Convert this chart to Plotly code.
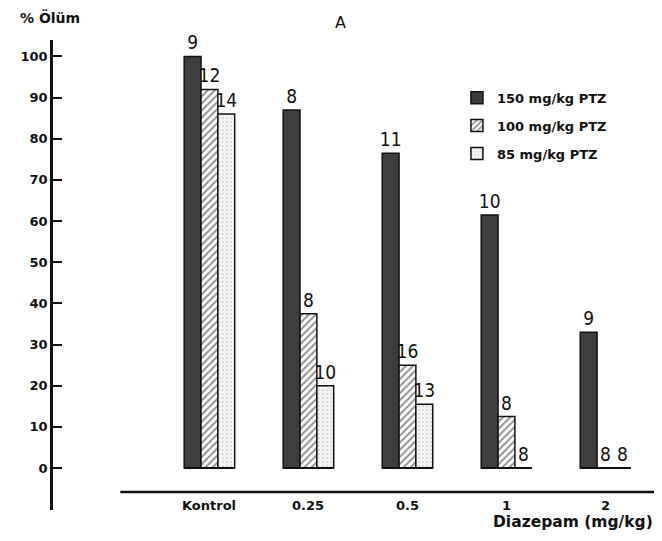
import plotly.graph_objects as go

categories = ["Kontrol", "0.25", "0.5", "1", "2"]
series_names = ["150 mg/kg PTZ", "100 mg/kg PTZ", "85 mg/kg PTZ"]
death_150 = [100, 87, 76.5, 61.5, 33]
death_100 = [92, 37.5, 25, 12.5, 0]
death_85 = [86, 20, 15.5, 0, 0]
n_150 = ["9", "8", "11", "10", "9"]
n_100 = ["12", "8", "16", "8", "8"]
n_85 = ["14", "10", "13", "8", "8"]
y_ticks = list(range(0, 101, 10))

label_font = dict(family="Liberation Sans Narrow, DejaVu Sans Condensed, sans-serif", size=19, color="#111")
axis_font = dict(family="DejaVu Sans, sans-serif", size=13, color="#111", weight="bold")

fig = go.Figure()
fig.add_trace(go.Bar(
    x=categories, y=death_150, name=series_names[0], text=n_150,
    textposition="outside", textfont=label_font, cliponaxis=False,
    marker=dict(color="#3e3e3e", line=dict(color="#111", width=1.5)),
    legendgroup="a",
))
fig.add_trace(go.Bar(
    x=categories, y=death_100, name=series_names[1], text=n_100,
    textposition="outside", textfont=label_font, cliponaxis=False,
    marker=dict(color="white", line=dict(color="#111", width=1.5),
                pattern=dict(shape="/", fgcolor="#222", bgcolor="white", size=5, solidity=0.4)),
    legendgroup="b",
))
fig.add_trace(go.Bar(
    x=categories, y=death_85, name=series_names[2], text=n_85,
    textposition="outside", textfont=label_font, cliponaxis=False,
    marker=dict(color="white", line=dict(color="#111", width=1.5),
                pattern=dict(shape=".", fgcolor="#999", bgcolor="#f4f4f4", size=4, solidity=0.15)),
    legendgroup="c",
))

shapes = []
# baseline under each group (bottom outline of the bars)
for i, _ in enumerate(categories):
    shapes.append(dict(type="line", xref="x", yref="y", x0=i - 0.255, x1=i + 0.255,
                       y0=0, y1=0, line=dict(color="#111", width=1.8)))
# long horizontal rule below the bars
shapes.append(dict(type="line", xref="x", yref="y", x0=-0.9, x1=4.5, y0=-5.8, y1=-5.8,
                   line=dict(color="#111", width=2.5)))

annotations = []
for i, c in enumerate(categories):
    annotations.append(dict(x=i, y=-9.2, xref="x", yref="y", text=c, showarrow=False,
                            font=dict(family="DejaVu Sans, sans-serif", size=13, color="#111",
                                      weight="bold"),
                            yanchor="middle"))
annotations.append(dict(x=1.0, y=-0.0255, xref="paper", yref="paper", text="Diazepam (mg/kg)",
                        showarrow=False, xanchor="right", yanchor="middle",
                        font=dict(family="DejaVu Sans, sans-serif", size=15.5, color="#111",
                                  weight="bold")))
annotations.append(dict(x=-0.058, y=1.048, xref="paper", yref="paper", text="% Ölüm",
                        showarrow=False, xanchor="left", yanchor="middle",
                        font=dict(family="DejaVu Sans, sans-serif", size=14, color="#111",
                                  weight="bold")))
annotations.append(dict(x=0.477, y=1.037, xref="paper", yref="paper", text="A",
                        showarrow=False, xanchor="center", yanchor="middle",
                        font=dict(family="DejaVu Sans, sans-serif", size=16, color="#111")))

fig.update_layout(
    width=650, height=530,
    margin=dict(l=45, r=3, t=31.5, b=28),
    paper_bgcolor="white", plot_bgcolor="white",
    barmode="group", bargap=0.49, bargroupgap=0,
    showlegend=True,
    legend=dict(x=0.671, y=0.909, xanchor="left", yanchor="top",
                font=dict(family="DejaVu Sans, sans-serif", size=13, color="#111", weight="bold"),
                tracegroupgap=8, traceorder="grouped", bgcolor="rgba(0,0,0,0)"),
    shapes=shapes,
    annotations=annotations,
    xaxis=dict(range=[-1.58, 4.5], showticklabels=False, showline=False, showgrid=False,
               zeroline=False, ticks=""),
    yaxis=dict(range=[-10.2, 104], tickvals=y_ticks, ticks="inside", ticklen=9, tickwidth=2,
               tickcolor="#111", showline=True, linewidth=2.5, linecolor="#111",
               showgrid=False, zeroline=False, tickfont=axis_font),
)
fig.update_traces(constraintext="none")

fig.write_html("out.html")
